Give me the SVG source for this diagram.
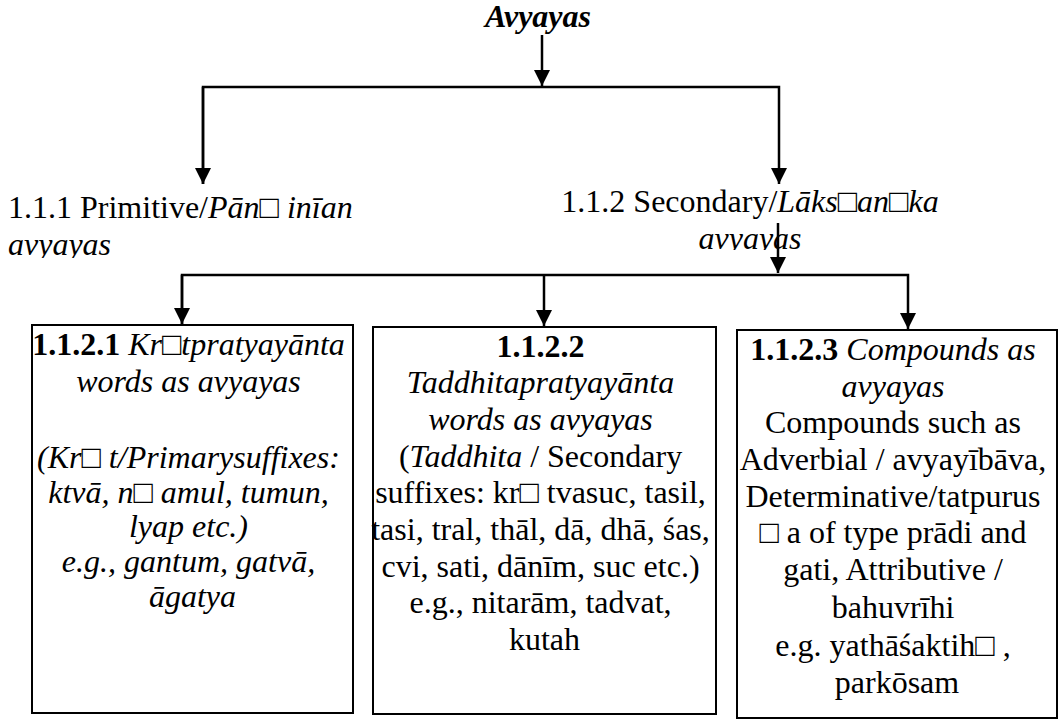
<svg xmlns="http://www.w3.org/2000/svg" width="1059" height="720" viewBox="0 0 1059 720" font-family="Liberation Serif, DejaVu Serif, serif">
<style>
text{font-size:32px;fill:#000}
.title{font-weight:bold;font-style:italic}
.b{font-weight:bold}
.i{font-style:italic}
.box{fill:#fff;stroke:#000;stroke-width:2}
.con{fill:none;stroke:#000;stroke-width:2.5}
</style>
<defs>
<marker id="ah" markerUnits="userSpaceOnUse" markerWidth="18" markerHeight="18" viewBox="0 -9 18 18" refX="16" refY="0" orient="auto">
<path d="M0,-8 L16,0 L0,8 z" fill="#000"/>
</marker>
<clipPath id="clipL"><rect x="0" y="190" width="420" height="68"/></clipPath>
<clipPath id="clipR"><rect x="540" y="190" width="420" height="60"/></clipPath>
</defs>

<g id="node-root">
<text class="title" x="538" y="27" text-anchor="middle">Avyayas</text>
</g>

<g id="node-primitive">
<text x="8" y="218">1.1.1 Primitive/<tspan class="i">Pān□ inīan</tspan></text>
<text class="i" x="8" y="255" clip-path="url(#clipL)">avyayas</text>
</g>

<g id="node-secondary">
<text x="750" y="212" text-anchor="middle">1.1.2 Secondary/<tspan class="i">Lāks□an□ka</tspan></text>
<text class="i" x="750" y="249" text-anchor="middle" clip-path="url(#clipR)">avyayas</text>
</g>

<g id="node-krt">
<rect class="box" x="32" y="325" width="321" height="388"/>
<text text-anchor="middle">
<tspan x="192.5" y="355"><tspan class="b">1.1.2.1</tspan> <tspan class="i">Kr□tpratyayānta</tspan></tspan>
<tspan class="i" x="192.5" y="392">words as avyayas</tspan>
<tspan class="i" x="192.5" y="468">(Kr□ t/Primarysuffixes:</tspan>
<tspan class="i" x="192.5" y="503">ktvā, n□ amul, tumun,</tspan>
<tspan class="i" x="192.5" y="537">lyap etc.)</tspan>
<tspan class="i" x="192.5" y="572">e.g., gantum, gatvā,</tspan>
<tspan class="i" x="192.5" y="607">āgatya</tspan>
</text>
</g>

<g id="node-taddhita">
<rect class="box" x="373" y="327" width="343" height="387"/>
<text text-anchor="middle">
<tspan class="b" x="544.5" y="357">1.1.2.2</tspan>
<tspan class="i" x="544.5" y="393">Taddhitapratyayānta</tspan>
<tspan class="i" x="544.5" y="430">words as avyayas</tspan>
<tspan x="544.5" y="467">(<tspan class="i">Taddhita</tspan> / Secondary</tspan>
<tspan x="544.5" y="503">suffixes: kr□ tvasuc, tasil,</tspan>
<tspan x="544.5" y="540">tasi, tral, thāl, dā, dhā, śas,</tspan>
<tspan x="544.5" y="577">cvi, sati, dānīm, suc etc.)</tspan>
<tspan x="544.5" y="613">e.g., nitarām, tadvat,</tspan>
<tspan x="544.5" y="650">kutah</tspan>
</text>
</g>

<g id="node-compounds">
<rect class="box" x="737" y="330" width="320" height="388"/>
<text text-anchor="middle">
<tspan x="897" y="360"><tspan class="b">1.1.2.3</tspan> <tspan class="i">Compounds as</tspan></tspan>
<tspan class="i" x="897" y="397">avyayas</tspan>
<tspan x="897" y="433">Compounds such as</tspan>
<tspan x="897" y="470">Adverbial / avyayībāva,</tspan>
<tspan x="897" y="507">Determinative/tatpurus</tspan>
<tspan x="897" y="543">□ a of type prādi and</tspan>
<tspan x="897" y="580">gati, Attributive /</tspan>
<tspan x="897" y="618">bahuvrīhi</tspan>
<tspan x="897" y="656">e.g. yathāśaktih□ ,</tspan>
<tspan x="897" y="693">parkōsam</tspan>
</text>
</g>

<g id="connectors">
<path class="con" d="M542,35 V86" marker-end="url(#ah)"/>
<path class="con" d="M203,184 V87 H779 V184" marker-end="url(#ah)"/>
<path class="con" d="M203,87 V184" marker-end="url(#ah)"/>
<path class="con" d="M778,223 V273" marker-end="url(#ah)"/>
<path class="con" d="M182,324 V275 H908 V329" marker-end="url(#ah)"/>
<path class="con" d="M182,275 V324" marker-end="url(#ah)"/>
<path class="con" d="M544,275 V326" marker-end="url(#ah)"/>
</g>
</svg>
